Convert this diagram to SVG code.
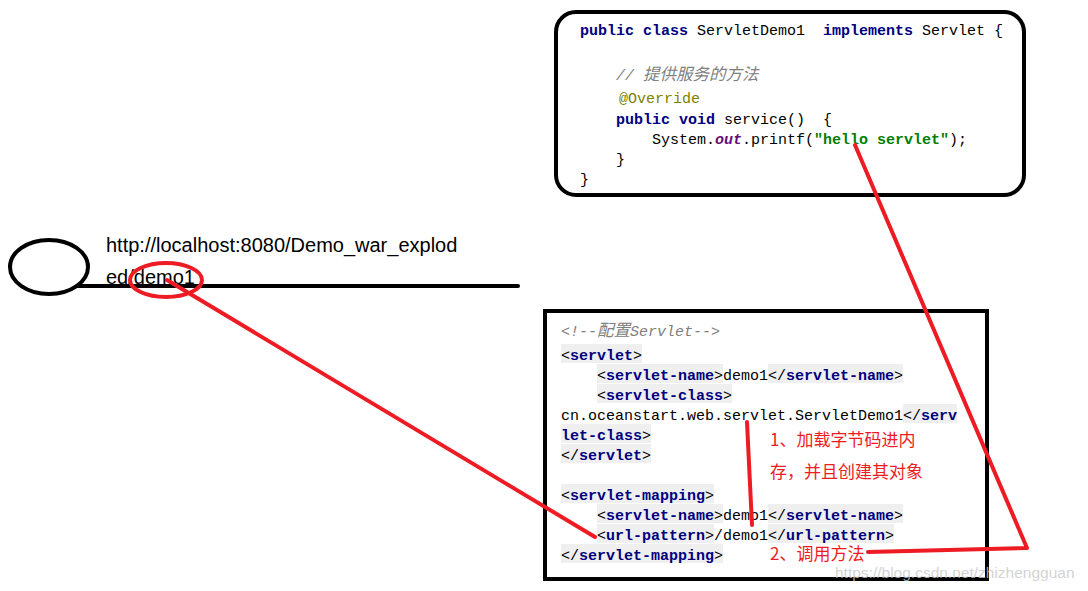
<svg xmlns="http://www.w3.org/2000/svg" width="1088" height="591" viewBox="0 0 1088 591">
<style>
.code{font-family:"Liberation Mono","DejaVu Sans Mono","Noto Sans CJK SC",monospace;font-size:15px;white-space:pre;fill:#000}
.kw{fill:#000080;font-weight:bold}
.cm{fill:#808080;font-style:italic}
.an{fill:#808000}
.st{fill:#008000;font-weight:bold}
.fld{fill:#660e7a;font-weight:bold;font-style:italic}
.tg{fill:#000080;font-weight:bold}
.hl{fill:#efefef}
.box{fill:#fff;stroke:#000;stroke-width:4}
.red{fill:none;stroke:#ed1c24;stroke-width:4;stroke-linecap:round;stroke-linejoin:round}
.note{font-family:"Noto Sans CJK SC","Liberation Sans",sans-serif;font-size:17px;fill:#ed1c24}
.url{font-family:"Liberation Sans","Noto Sans CJK SC",sans-serif;font-size:20px;fill:#000}
</style>
<rect width="1088" height="591" fill="#fff"/>

<g id="client-node">
  <ellipse cx="49" cy="267" rx="39" ry="27" fill="none" stroke="#000" stroke-width="4"/>
  <line x1="77" y1="286" x2="518" y2="286" stroke="#000" stroke-width="4" stroke-linecap="round"/>
  <text class="url" x="106" y="252">http://localhost:8080/Demo_war_explod</text>
  <text class="url" x="106" y="284">ed/demo1</text>
</g>

<g id="servlet-class-node">
  <rect class="box" x="556" y="12" width="468" height="183" rx="20"/>
  <text class="code" x="580" y="35"><tspan class="kw">public class</tspan> ServletDemo1  <tspan class="kw">implements</tspan> Servlet {</text>
  <text class="code cm" x="616" y="80">// <tspan font-size="16.5">提供服务的方法</tspan></text>
  <text class="code an" x="619" y="103">@Override</text>
  <text class="code" x="616" y="124"><tspan class="kw">public void</tspan> service()  {</text>
  <text class="code" x="652" y="144">System.<tspan class="fld">out</tspan>.printf(<tspan class="st">"hello servlet"</tspan>);</text>
  <text class="code" x="616" y="164">}</text>
  <text class="code" x="580" y="184">}</text>
</g>

<g id="web-xml-node">
  <rect class="box" x="545" y="311" width="442" height="268"/>
  <g>
    <rect class="hl" x="561" y="344" width="81" height="19"/>
    <rect class="hl" x="597" y="364" width="126" height="19"/>
    <rect class="hl" x="768" y="364" width="135" height="19"/>
    <rect class="hl" x="597" y="384" width="135" height="19"/>
    <rect class="hl" x="903" y="404" width="54" height="19"/>
    <rect class="hl" x="561" y="424" width="90" height="19"/>
    <rect class="hl" x="561" y="444" width="90" height="19"/>
    <rect class="hl" x="561" y="484" width="153" height="19"/>
    <rect class="hl" x="597" y="504" width="126" height="19"/>
    <rect class="hl" x="768" y="504" width="135" height="19"/>
    <rect class="hl" x="597" y="524" width="117" height="19"/>
    <rect class="hl" x="768" y="524" width="126" height="19"/>
    <rect class="hl" x="561" y="544" width="162" height="19"/>
  </g>
  <text class="code cm" x="561" y="336">&lt;!--<tspan font-size="16.5">配置</tspan>Servlet--&gt;</text>
  <text class="code" x="561" y="360">&lt;<tspan class="tg">servlet</tspan>&gt;</text>
  <text class="code" x="597" y="380">&lt;<tspan class="tg">servlet-name</tspan>&gt;demo1&lt;/<tspan class="tg">servlet-name</tspan>&gt;</text>
  <text class="code" x="597" y="400">&lt;<tspan class="tg">servlet-class</tspan>&gt;</text>
  <text class="code" x="561" y="420">cn.oceanstart.web.servlet.ServletDemo1&lt;/<tspan class="tg">serv</tspan></text>
  <text class="code" x="561" y="440"><tspan class="tg">let-class</tspan>&gt;</text>
  <text class="code" x="561" y="460">&lt;/<tspan class="tg">servlet</tspan>&gt;</text>
  <text class="code" x="561" y="500">&lt;<tspan class="tg">servlet-mapping</tspan>&gt;</text>
  <text class="code" x="597" y="520">&lt;<tspan class="tg">servlet-name</tspan>&gt;demo1&lt;/<tspan class="tg">servlet-name</tspan>&gt;</text>
  <text class="code" x="597" y="540">&lt;<tspan class="tg">url-pattern</tspan>&gt;/demo1&lt;/<tspan class="tg">url-pattern</tspan>&gt;</text>
  <text class="code" x="561" y="560">&lt;/<tspan class="tg">servlet-mapping</tspan>&gt;</text>
</g>

<g id="connectors">
  <ellipse class="red" cx="166" cy="280" rx="36" ry="17"/>
  <polyline class="red" points="167,280 595,537"/>
  <polyline class="red" points="747,422 752,525"/>
  <polyline class="red" points="855,145 1027,548 868,552"/>
</g>

<g id="annotations">
  <text class="note" x="770" y="446">1、加载字节码进内</text>
  <text class="note" x="770" y="478">存，并且创建其对象</text>
  <text class="note" x="770" y="560">2、调用方法</text>
</g>

<text x="835" y="578" font-family="Liberation Sans, sans-serif" font-size="15.5" fill="#c8c8c8" fill-opacity="0.8">https://blog.csdn.net/zhizhengguan</text>
</svg>
